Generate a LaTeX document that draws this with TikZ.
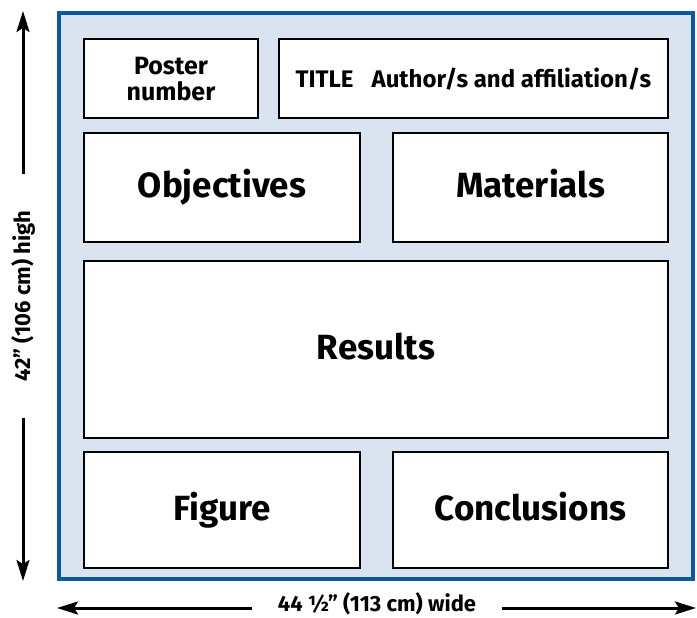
\documentclass[tikz,border=0pt]{standalone}
\usepackage{fontspec}
\setmainfont{Fira Sans}
\usetikzlibrary{arrows.meta}
\definecolor{posterblue}{HTML}{0A56A0}
\definecolor{posterfill}{HTML}{D9E4F0}
\tikzset{
    panel/.style={draw, line width=2pt, fill=white, inner sep=0pt, align=center,
        text height=29pt, text depth=9pt, font=\bfseries\fontsize{35}{36}\selectfont},
    small panel/.style={panel, text height=, text depth=, font=\bfseries\fontsize{25}{26}\selectfont},
    dim label/.style={font=\bfseries\fontsize{22}{23}\selectfont, inner ysep=0pt},
    dim arrow/.style={line width=3pt, -{Stealth[length=21pt,width=13pt,inset=4pt]}}
}
\begin{document}
\begin{tikzpicture}[x=1pt,y=-1pt] % one unit is one pixel of the page
    % Fix the page size
    \useasboundingbox (0,0) rectangle (697,618);
    % Poster sheet
    \draw[line width=3.5pt, draw=posterblue, fill=posterfill] (59,13) rectangle (693,579);
    % Panels
    \node[small panel, minimum width=174, minimum height=79] (number) at (171,79) {Poster\\number};
    \node[small panel, minimum width=389, minimum height=79, font=\bfseries\fontsize{24}{25}\selectfont] (title) at (473.5,79) {TITLE\hspace{18pt}Author/s and affiliation/s};
    \node[panel, minimum width=276, minimum height=109] (objectives) at (222,187.5) {Objectives};
    \node[panel, minimum width=275, minimum height=109] (materials) at (530.5,187.5) {Materials};
    \node[panel, minimum width=584, minimum height=177] (results) at (376,349.5) {Results};
    \node[panel, minimum width=276, minimum height=116] (figure) at (222,510) {Figure};
    \node[panel, minimum width=275, minimum height=116] (conclusions) at (530.5,510) {Conclusions};
    % Height
    \coordinate (high top) at (23,11);
    \coordinate (high bottom) at (23,581);
    \node[dim label, rotate=90, inner xsep=36pt] (high) at (23,296) {42” (106 cm) high};
    \draw[dim arrow] (high.east) -- (high top);
    \draw[dim arrow] (high.west) -- (high bottom);
    % Width
    \coordinate (wide left) at (57,608);
    \coordinate (wide right) at (696,608);
    \node[dim label, inner xsep=26pt, anchor=base] (wide) at (377,611.5) {44 ½” (113 cm) wide};
    \draw[dim arrow] (wide.west |- wide left) -- (wide left);
    \draw[dim arrow] (wide.east |- wide right) -- (wide right);
\end{tikzpicture}
\end{document}
